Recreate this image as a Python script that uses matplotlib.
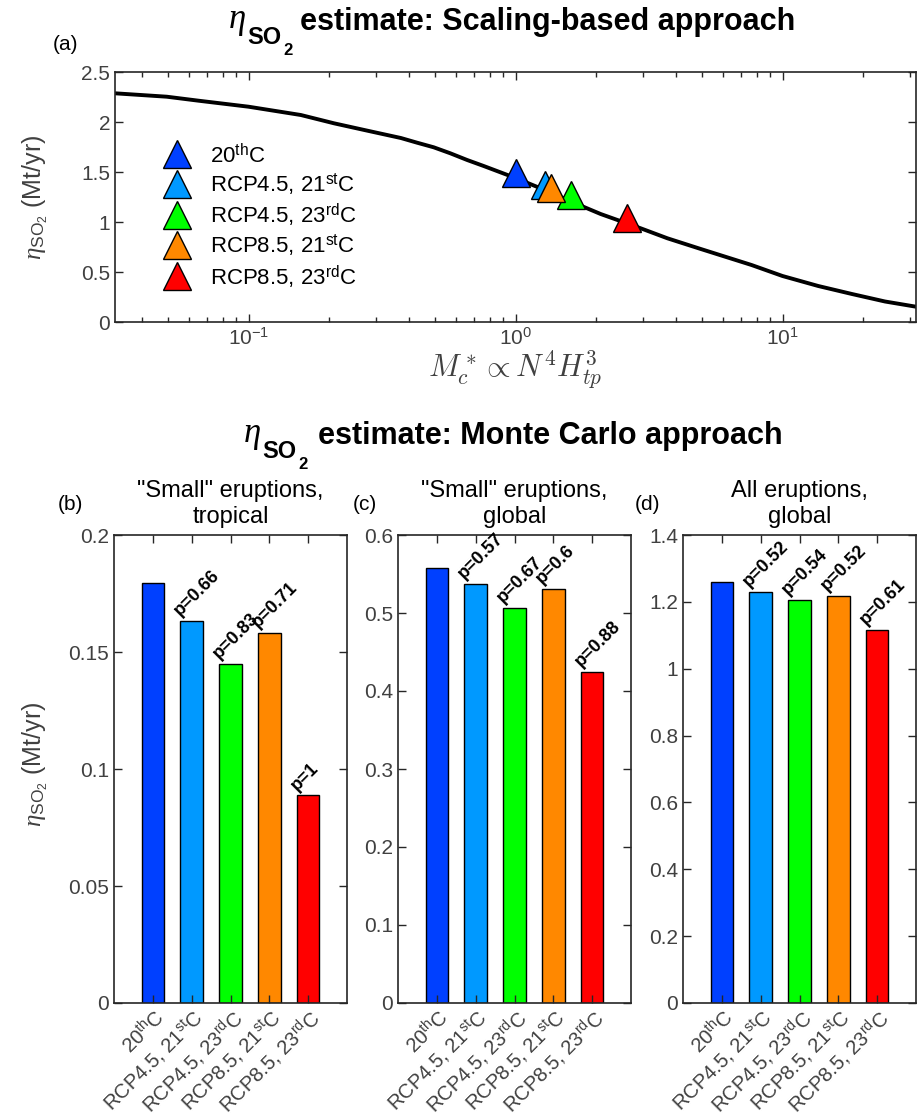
import numpy as np
import matplotlib
matplotlib.use('Agg')
import matplotlib.pyplot as plt
from matplotlib.ticker import LogLocator
from matplotlib.transforms import ScaledTranslation

plt.rcParams['font.family'] = ['Liberation Sans', 'DejaVu Sans']
plt.rcParams['mathtext.fontset'] = 'custom'
plt.rcParams['mathtext.rm'] = 'Liberation Sans'
plt.rcParams['mathtext.it'] = 'Liberation Serif:italic'
plt.rcParams['mathtext.bf'] = 'Liberation Sans:bold'
plt.rcParams['mathtext.sf'] = 'Liberation Sans'

# scenarios and colours
scen = ['20$^{\\mathrm{th}}$C', 'RCP4.5, 21$^{\\mathrm{st}}$C', 'RCP4.5, 23$^{\\mathrm{rd}}$C',
        'RCP8.5, 21$^{\\mathrm{st}}$C', 'RCP8.5, 23$^{\\mathrm{rd}}$C']
colors = ['#0040FF', '#0099FF', '#00FF00', '#FF8800', '#FF0000']

# (a) scaling curve
curve_x = [0.0316, 0.0494, 0.065, 0.1, 0.157, 0.209, 0.279, 0.372, 0.428, 0.494, 0.570, 0.659,
           0.760, 1.0, 1.242, 1.563, 2.084, 2.944, 3.707, 4.943, 7.656, 10.0, 13.61, 18.2, 24.21, 31.62]
curve_y = [2.287, 2.253, 2.213, 2.153, 2.07, 1.987, 1.913, 1.84, 1.793, 1.747, 1.687, 1.62,
           1.56, 1.44, 1.337, 1.22, 1.08, 0.937, 0.837, 0.73, 0.57, 0.46, 0.36, 0.28, 0.205, 0.153]
mk_x = [1.0, 1.285, 1.608, 1.353, 2.61]
mk_y = [1.487, 1.37, 1.27, 1.34, 1.037]

# (b)-(d) Monte Carlo estimates
vals_b = [0.1797, 0.1633, 0.1448, 0.158, 0.0887]
vals_c = [0.5578, 0.5374, 0.5065, 0.5305, 0.424]
vals_d = [1.258, 1.23, 1.206, 1.218, 1.117]
p_b = ['p=0.66', 'p=0.83', 'p=0.71', 'p=1']
p_c = ['p=0.57', 'p=0.67', 'p=0.6', 'p=0.88']
p_d = ['p=0.52', 'p=0.54', 'p=0.52', 'p=0.61']

gray = '#262626'
tkcol = '#404040'
W, H = 918, 1118
ylab = r'$\eta_{\mathrm{SO}_{\mathrm{2}}}$ (Mt/yr)'

fig = plt.figure(figsize=(W / 100, H / 100), dpi=100)


def big_title(x_eta, x_txt, base, txt):
    # eta with a big bold "SO_2" subscript, then the bold title text
    fig.text(x_eta / W, 1 - (base - 2) / H, r'$\eta$', fontsize=25, ha='left', va='baseline')
    fig.text((x_eta + 19) / W, 1 - (base + 14) / H, 'SO', fontsize=17, fontweight='bold',
             ha='left', va='baseline')
    fig.text((x_eta + 55) / W, 1 - (base + 25) / H, '2', fontsize=12, fontweight='bold',
             ha='left', va='baseline')
    fig.text(x_txt / W, 1 - base / H, txt, fontsize=22, fontweight='bold', ha='left', va='baseline')


# ---- top panel
ax = fig.add_axes([115 / W, 1 - 322 / H, 801 / W, 250 / H])
ax.plot(curve_x, curve_y, color='k', lw=2.8, zorder=2)
for i in range(5):
    ax.plot(mk_x[i], mk_y[i], '^', ms=20, mfc=colors[i], mec='k', mew=1,
            ls='none', label=scen[i], zorder=3)
ax.set_xscale('log')
ax.set_xlim(10**-1.5, 10**1.5)
ax.set_ylim(0, 2.5)
ax.set_yticks([0, 0.5, 1, 1.5, 2, 2.5])
ax.set_yticklabels(['0', '0.5', '1', '1.5', '2', '2.5'])
ax.xaxis.set_minor_locator(LogLocator(base=10, subs=np.arange(2, 10)))
ax.tick_params(which='both', direction='in', top=True, right=True, color=gray,
               labelcolor=tkcol, labelsize=15)
ax.tick_params(which='major', length=6, width=1)
ax.tick_params(which='minor', length=3.5, width=1)
for s in ax.spines.values():
    s.set_color(gray)
    s.set_linewidth(1.2)
ax.set_ylabel(ylab, fontsize=18, color=tkcol, va='center')
ax.yaxis.set_label_coords((35 - 115) / 801, 0.5)
ax.set_xlabel(r'$M_c^* \propto N^4 H_{tp}^3$', fontsize=22, color=tkcol, math_fontfamily='cm', va='center')
ax.xaxis.set_label_coords(0.5, -48 / 250)
ax.legend(loc='upper left', bbox_to_anchor=(0.052, 0.75), frameon=False, fontsize=16,
          handlelength=1.0, handletextpad=1.0, labelspacing=0.2, borderaxespad=0)

big_title(228, 300, 30, 'estimate: Scaling-based approach')
big_title(243, 318, 444, 'estimate: Monte Carlo approach')
fig.text(66 / W, 1 - 45 / H, '(a)', fontsize=15, ha='center', va='center')

# ---- bar panels
panels = [
    (vals_b, p_b, 0.2, [0, 0.05, 0.1, 0.15, 0.2], ['0', '0.05', '0.1', '0.15', '0.2'],
     '"Small" eruptions,\ntropical', '(b)', 114, 70),
    (vals_c, p_c, 0.6, [0, 0.1, 0.2, 0.3, 0.4, 0.5, 0.6], ['0', '0.1', '0.2', '0.3', '0.4', '0.5', '0.6'],
     '"Small" eruptions,\nglobal', '(c)', 398, 365),
    (vals_d, p_d, 1.4, [0, 0.2, 0.4, 0.6, 0.8, 1.0, 1.2, 1.4], ['0', '0.2', '0.4', '0.6', '0.8', '1', '1.2', '1.4'],
     'All eruptions,\nglobal', '(d)', 683, 647),
]
pos = np.arange(1, 6)
shift = ScaledTranslation(10 / 100, 0, fig.dpi_scale_trans)
for vals, pv, ytop, yt, ytl, ttl, lab, left, labx in panels:
    bx = fig.add_axes([left / W, 1 - 1003 / H, 233 / W, 468 / H])
    bx.bar(pos, vals, width=0.58, color=colors, edgecolor='k', linewidth=1)
    bx.set_xlim(0, 6)
    bx.set_ylim(0, ytop)
    bx.set_yticks(yt)
    bx.set_yticklabels(ytl)
    bx.set_xticks(pos)
    bx.set_xticklabels(scen, rotation=45, ha='right', va='top', rotation_mode='anchor')
    for t in bx.get_xticklabels():
        t.set_transform(t.get_transform() + shift)
    bx.tick_params(which='both', direction='in', top=True, right=True, color=gray,
                   labelcolor=tkcol, labelsize=15, length=6, width=1)
    bx.tick_params(axis='x', labelsize=14.5, pad=2)
    for s in bx.spines.values():
        s.set_color(gray)
        s.set_linewidth(1.2)
    for i in range(1, 5):
        bx.text(pos[i] - 0.22, vals[i] + ytop * 0.004, pv[i - 1], rotation=45, rotation_mode='anchor',
                ha='left', va='bottom', fontsize=13, fontweight='bold')
    bx.set_title(ttl, fontsize=17, pad=9, linespacing=1.2)
    fig.text(labx / W, 1 - 505 / H, lab, fontsize=15, ha='center', va='center')
    if lab == '(b)':
        bx.set_ylabel(ylab, fontsize=18, color=tkcol, va='center')
        bx.yaxis.set_label_coords((35 - 114) / 233, 0.51)

fig.savefig('out.png', dpi=100)
